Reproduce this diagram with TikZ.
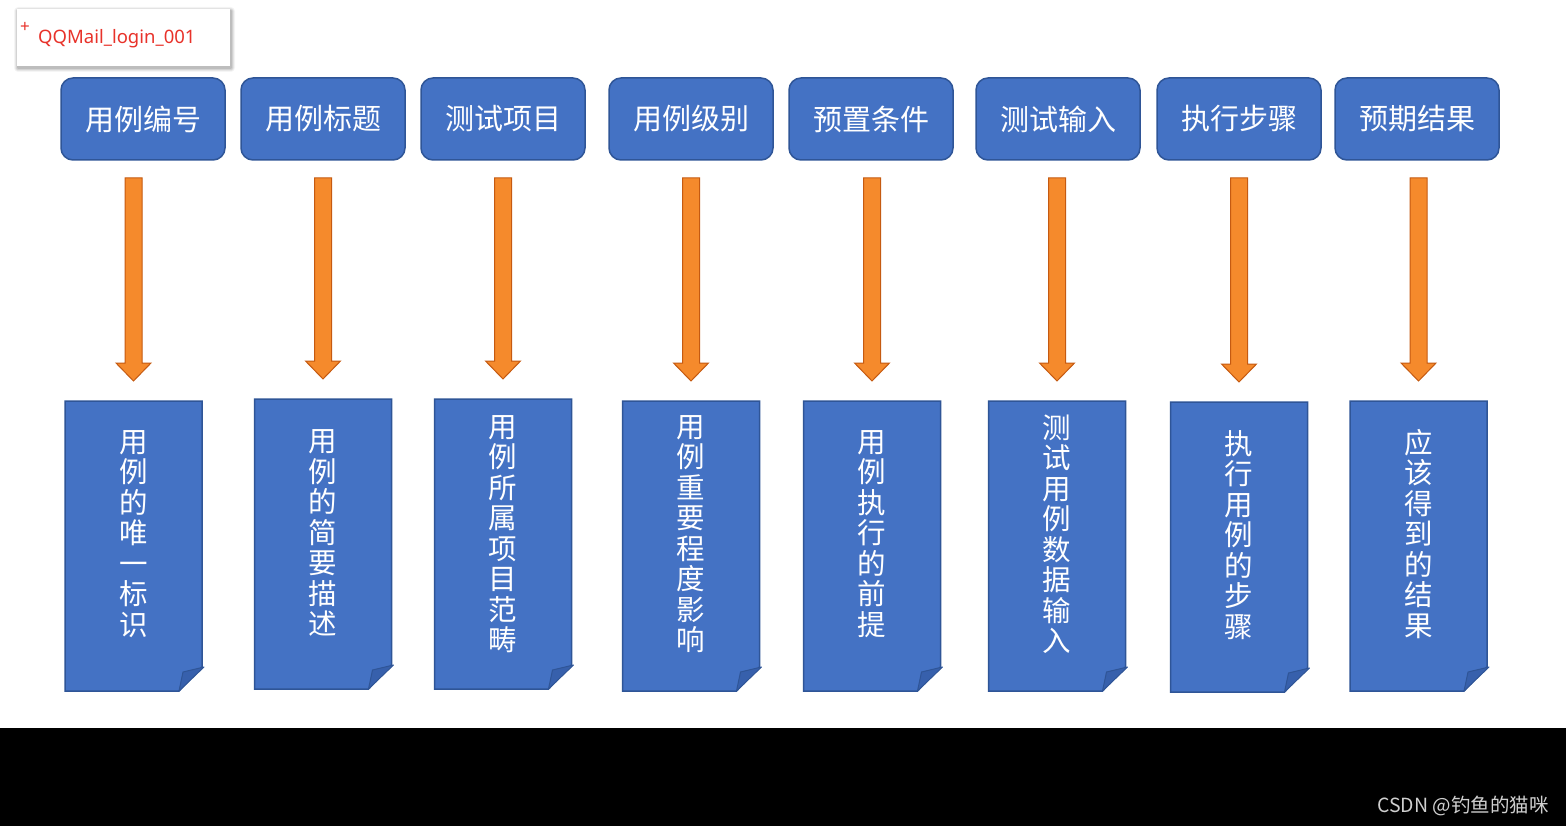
\documentclass[tikz,border=0pt]{standalone}
\usepackage{fontspec}
\setmainfont{Noto Sans}
\newfontfamily\cjk{Noto Sans CJK SC}
\usetikzlibrary{calc,backgrounds}
\definecolor{boxfill}{HTML}{4472C4}
\definecolor{boxline}{HTML}{2F5597}
\definecolor{flapfill}{HTML}{3760AC}
\definecolor{arrfill}{HTML}{F58A2C}
\definecolor{arrline}{HTML}{C55A11}
\definecolor{labred}{HTML}{E8322A}
\definecolor{wmgray}{HTML}{CFCFCF}
\tikzset{
  topbox/.style={draw=boxline,line width=1.5pt,fill=boxfill,rounded corners=12pt,
    minimum width=164pt,minimum height=82pt,inner sep=0pt,outer sep=0pt,
    text=white,font=\cjk\fontsize{29}{30}\selectfont},
  botbox/.style={inner sep=0pt,outer sep=0pt,minimum width=137pt,minimum height=290pt},
  vtext/.style={align=center,text=white,inner sep=0pt,
    font=\cjk\fontsize{28.5}{30.5}\selectfont},
  arrowstyle/.style={fill=arrfill,draw=arrline,line width=1pt,line join=miter},
}
\newcommand\blockarrow[2]{%
  \draw[arrowstyle] let \p1=(#2.north |- #1.south), \p2=(#2.north) in
   (\x1-8.5pt,\y1-18pt) -- (\x1+8.5pt,\y1-18pt) -- (\x1+8.5pt,\y2+38pt)
   -- (\x1+17.5pt,\y2+38pt) -- (\x1,\y2+20pt) -- (\x1-17.5pt,\y2+38pt)
   -- (\x1-8.5pt,\y2+38pt) -- cycle;}
\newcommand\foldbox[1]{%
  \filldraw[fill=boxfill,draw=boxline,line width=1.5pt] let \p1=(#1.south west), \p2=(#1.north east) in
   (\x1,\y2) -- (\x2,\y2) -- (\x2,\y1+24pt) -- (\x2-23pt,\y1) -- (\x1,\y1) -- cycle;
  \filldraw[fill=flapfill,draw=boxline,line width=1pt,line join=round] let \p1=(#1.south west), \p2=(#1.north east) in
   (\x2-23pt,\y1) -- (\x2-19pt,\y1+19pt) -- (\x2+2pt,\y1+24pt) -- cycle;}
\begin{document}
\begin{tikzpicture}[x=1pt,y=-1pt]
\useasboundingbox (0,0) rectangle (1566,826);
\begin{scope}[on background layer]
  \fill[white] (0,0) rectangle (1566,826);
  \fill[black] (0,728) rectangle (1566,826);
\end{scope}
% label with soft shadow
\foreach \d/\o in {4/0.04,3/0.06,2/0.08,1/0.10}{
  \fill[black,opacity=\o,rounded corners=\d pt] (17-\d+1,9-\d+2) rectangle (230+\d+1,66+\d+2);}
\node[fill=white,minimum width=213pt,minimum height=57pt,inner sep=0pt] (lab) at (123.5,37.5) {};
\node[anchor=base west,text=labred,font=\fontsize{18.5}{20}\selectfont,inner sep=0pt] (labtxt) at (38,44) {QQMail\_login\_001};
\node[text=labred,font=\fontsize{17}{17}\selectfont,inner sep=0pt] (plus) at (25,27) {+};
% top boxes
\node[topbox] (t1) at (143,119) {用例编号};
\node[topbox] (t2) at (323,119) {用例标题};
\node[topbox] (t3) at (503,119) {测试项目};
\node[topbox] (t4) at (691,119) {用例级别};
\node[topbox] (t5) at (871,119) {预置条件};
\node[topbox] (t6) at (1058,119) {测试输入};
\node[topbox] (t7) at (1239,119) {执行步骤};
\node[topbox] (t8) at (1417,119) {预期结果};
% bottom boxes
\node[botbox] (b1) at (133.5,546) {};
\node[botbox] (b2) at (323,544) {};
\node[botbox] (b3) at (503,544) {};
\node[botbox] (b4) at (691,546) {};
\node[botbox] (b5) at (872,546) {};
\node[botbox] (b6) at (1057,546) {};
\node[botbox] (b7) at (1239,547) {};
\node[botbox] (b8) at (1418.5,546) {};
\begin{scope}[on background layer]
  \foreach \b in {b1,b2,b3,b4,b5,b6,b7,b8} {\foldbox{\b}}
\end{scope}
\node[vtext] (v1) at ($(b1.center)+(0,-12)$) {用\\例\\的\\唯\\一\\标\\识};
\node[vtext] (v2) at ($(b2.center)+(0,-11)$) {用\\例\\的\\简\\要\\描\\述};
\node[vtext] (v3) at ($(b3.center)+(0,-10)$) {用\\例\\所\\属\\项\\目\\范\\畴};
\node[vtext] (v4) at ($(b4.center)+(0,-12)$) {用\\例\\重\\要\\程\\度\\影\\响};
\node[vtext] (v5) at ($(b5.center)+(0,-12)$) {用\\例\\执\\行\\的\\前\\提};
\node[vtext] (v6) at ($(b6.center)+(0,-12)$) {测\\试\\用\\例\\数\\据\\输\\入};
\node[vtext] (v7) at ($(b7.center)+(0,-12)$) {执\\行\\用\\例\\的\\步\\骤};
\node[vtext] (v8) at ($(b8.center)+(0,-12)$) {应\\该\\得\\到\\的\\结\\果};
% arrows
\blockarrow{t1}{b1}
\blockarrow{t2}{b2}
\blockarrow{t3}{b3}
\blockarrow{t4}{b4}
\blockarrow{t5}{b5}
\blockarrow{t6}{b6}
\blockarrow{t7}{b7}
\blockarrow{t8}{b8}
% watermark
\node[text=wmgray,font=\cjk\fontsize{19.5}{21}\selectfont,inner sep=0pt,anchor=east] (wm) at (1549,806) {CSDN @钓鱼的猫咪};
\end{tikzpicture}
\end{document}
